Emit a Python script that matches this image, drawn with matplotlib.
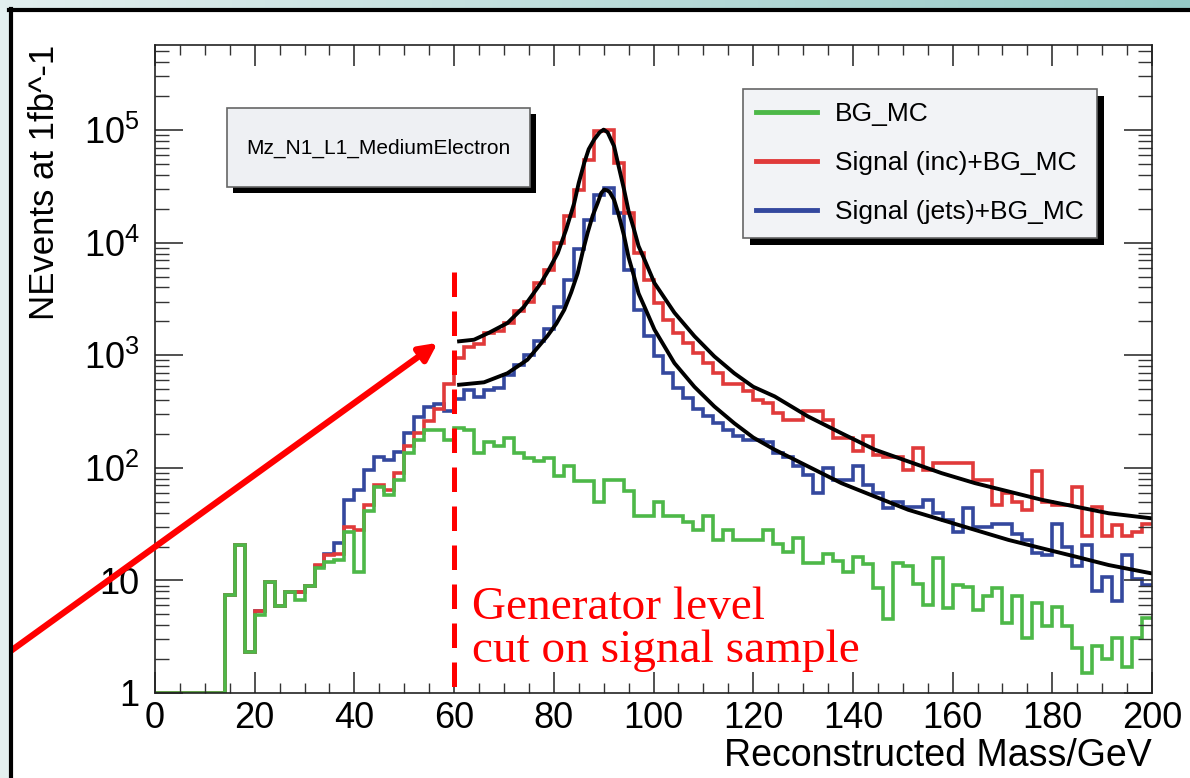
import numpy as np
import matplotlib
matplotlib.use("Agg")
import matplotlib.pyplot as plt
from matplotlib.patches import Rectangle
from matplotlib.lines import Line2D
from matplotlib.colors import LinearSegmentedColormap
from matplotlib.ticker import MultipleLocator, FixedLocator, FixedFormatter, LogLocator, NullFormatter

plt.rcParams["font.family"] = ["Liberation Sans", "DejaVu Sans"]
plt.rcParams["mathtext.fontset"] = "custom"
plt.rcParams["mathtext.rm"] = "Liberation Sans"

# 2 GeV bins from 0 to 200
bin_edges = np.arange(0, 202, 2)

bg_mc = [
    1, 1, 1, 1, 1, 1, 1, 7.4, 20.7, 2.3,
    4.9, 9.7, 5.9, 7.9, 6.7, 9.0, 12.8, 14.7, 15.2, 27,
    12, 41, 68, 57, 78, 135, 177, 218, 218, 177,
    225, 218, 135, 171, 155, 184, 135, 122, 114, 122,
    84, 103, 76, 76, 50, 78, 78, 62, 37, 37,
    50, 37, 37, 33, 28, 37, 23, 28, 23, 23,
    23, 28, 21, 18, 24, 14.2, 14.2, 17, 15, 12,
    16, 14, 8.5, 4.5, 14.2, 13.5, 9.3, 6.1, 15.7, 5.7,
    9.1, 8.8, 5.5, 7.2, 8.5, 4.2, 7.2, 3.1, 6.3, 3.9,
    5.8, 3.9, 2.5, 1.5, 2.6, 2.0, 3.1, 1.7, 3.1, 4.6,
]

sig_inc = [
    1, 1, 1, 1, 1, 1, 1, 7.4, 20.7, 2.3,
    5.4, 9.7, 5.9, 7.9, 7.9, 9.0, 13.7, 16.9, 17, 30,
    28, 47, 70, 63, 90, 155, 203, 258, 330, 560,
    950, 1180, 1260, 1575, 1640, 1930, 2450, 3000, 4370, 5750,
    9930, 17150, 29570, 54650, 97700, 100900, 51000, 18360, 8090, 4690,
    2910, 2070, 1575, 1283, 1050, 853, 700, 555, 560, 480,
    400, 376, 306, 267, 267, 317, 317, 267, 184, 184,
    140, 190, 131, 126, 126, 96, 150, 96, 110, 110,
    110, 110, 78, 78, 47, 60, 50, 42, 93, 50,
    47, 47, 68, 25, 45, 25, 31, 25, 27, 32,
]

sig_jets = [
    1, 1, 1, 1, 1, 1, 1, 7.4, 20.7, 2.3,
    5.4, 9.7, 5.9, 7.9, 7.9, 9.0, 13.5, 17, 21.4, 52,
    64, 96, 126, 118, 139, 204, 282, 346, 371, 320,
    405, 490, 425, 495, 515, 670, 820, 1010, 1330, 1700,
    2700, 4700, 8700, 15900, 26700, 30600, 18400, 5750, 2540, 1470,
    980, 690, 510, 420, 330, 286, 250, 218, 190, 177,
    177, 170, 135, 126, 103, 87, 60, 99, 78, 78,
    103, 71, 60, 44, 50, 45, 45, 52, 40, 34.5,
    27, 44, 30, 30, 32, 32, 26, 23, 17.4, 16.9,
    32, 20, 13.3, 20.6, 8, 10.8, 6.5, 16.9, 10.4, 9.1,
]

# fitted curves
fit_inc_x = [61, 64, 67, 70.7, 74, 77.4, 79, 80.8, 82.5, 84.1, 85, 86.1, 87, 88.1, 89.2,
             90.0, 90.8, 92.1, 93, 94.1, 95, 96.1, 97, 98.2, 100.2, 104.2, 108.2, 112.2,
             116.2, 120, 124.3, 131, 137.7, 144.4, 151.1, 157.8, 164.5, 171.2, 177.9,
             184.6, 191.3, 199.7]
fit_inc_y = [1330, 1374, 1585, 1932, 2692, 4375, 5754, 8091, 13180, 22540, 33880, 51050,
             67610, 82410, 95500, 100900, 95500, 71780, 47860, 29580, 19050, 13060, 9333,
             7063, 4375, 2388, 1479, 977, 692, 525, 431, 286, 203, 145, 114, 89.7, 73.1,
             61.7, 52.0, 45.3, 39.5, 35.7]

fit_jets_x = [61, 66, 70.7, 74.7, 78.7, 80.5, 82.1, 83.5, 84.8, 85.8, 86.8, 87.8, 88.8,
              89.5, 90.1, 90.7, 91.2, 92.1, 93, 94.1, 95, 96.1, 97, 98.2, 100.2, 104.2,
              108.2, 112.2, 116.2, 120, 124.3, 131, 137.7, 144.4, 151.1, 157.8, 164.5,
              171.2, 177.9, 184.6, 191.3, 199.7]
fit_jets_y = [547, 575, 692, 912, 1479, 1905, 2535, 3631, 5370, 8318, 12300, 17380, 22540,
              27540, 29580, 29170, 28180, 23990, 17780, 11480, 7413, 5012, 3548, 2692, 1687,
              851, 525, 351, 249, 186, 145, 103, 73.1, 55.6, 42.4, 34.5, 28.1, 22.9, 19.3,
              16.3, 13.7, 11.6]

cut_mass = 60
cut_top = 5500

GREEN = "#4db848"
RED = "#e03a3a"
BLUE = "#34489e"

W, H = 1190, 778


def px_rect(x0, y0, x1, y1):
    # pixel box (top-left origin) -> figure fraction rect
    return [x0 / W, 1 - y1 / H, (x1 - x0) / W, (y1 - y0) / H]


fig = plt.figure(figsize=(W / 100, H / 100), dpi=100)
fig.patch.set_facecolor("white")

# slide decoration: teal strips and black border
strip = fig.add_axes(px_rect(0, 0, W, 8))
strip.imshow(np.linspace(0, 1, 256)[None, :], aspect="auto",
             cmap=LinearSegmentedColormap.from_list("tl", ["#e2eeee", "#95cac7"]))
strip.axis("off")
fig.patches.append(Rectangle((0, 0), 9 / W, 1 - 8 / H, transform=fig.transFigure,
                             facecolor="#e4f0f0", edgecolor="none"))
fig.lines.append(Line2D([9 / W, 1], [1 - 10 / H, 1 - 10 / H], transform=fig.transFigure,
                        color="black", lw=3))
fig.lines.append(Line2D([10.5 / W, 10.5 / W], [0, 1 - 9 / H], transform=fig.transFigure,
                        color="black", lw=3))

ax = fig.add_axes(px_rect(155, 45, 1152, 693))

h_jets = ax.stairs(sig_jets, bin_edges, baseline=None, color=BLUE, lw=2.6,
                   label="Signal (jets)+BG_MC")
h_inc = ax.stairs(sig_inc, bin_edges, baseline=None, color=RED, lw=2.6,
                  label="Signal (inc)+BG_MC")
h_bg = ax.stairs(bg_mc, bin_edges, baseline=None, color=GREEN, lw=2.6, label="BG_MC")

ax.plot(fit_inc_x, fit_inc_y, color="black", lw=2.8, solid_joinstyle="round")
ax.plot(fit_jets_x, fit_jets_y, color="black", lw=2.8, solid_joinstyle="round")

ax.plot([cut_mass, cut_mass], [cut_top, 1], color="red", lw=3.6,
        linestyle=(0, (4.9, 2.9)), clip_on=False, zorder=6)

ax.set_yscale("log")
ax.set_xlim(0, 200)
ax.set_ylim(1, 5.7e5)

ax.xaxis.set_major_locator(MultipleLocator(20))
ax.xaxis.set_minor_locator(MultipleLocator(5))
decades = [1, 10, 1e2, 1e3, 1e4, 1e5]
ax.yaxis.set_major_locator(FixedLocator(decades))
ax.yaxis.set_major_formatter(FixedFormatter(
    ["1", "10", r"$\mathregular{10^{2}}$", r"$\mathregular{10^{3}}$",
     r"$\mathregular{10^{4}}$", r"$\mathregular{10^{5}}$"]))
ax.yaxis.set_minor_locator(LogLocator(base=10, subs=np.arange(2, 10)))
ax.yaxis.set_minor_formatter(NullFormatter())

ax.tick_params(which="both", direction="in", top=True, right=True, colors="#333333",
               labelcolor="black", labelsize=26)
ax.tick_params(axis="x", which="major", length=15, width=1.2, pad=6)
ax.tick_params(axis="x", which="minor", length=7, width=1.0)
ax.tick_params(axis="y", which="major", length=20, width=1.2, pad=11)
ax.tick_params(axis="y", which="minor", length=10, width=1.0)
for s in ax.spines.values():
    s.set_linewidth(1.2)
    s.set_color("#222222")

ax.set_xlabel("Reconstructed Mass/GeV", fontsize=27, loc="right")
ax.xaxis.set_label_coords(1.0, -0.07)
fig.text(45 / W, 1 - 45 / H, "NEvents at 1fb^-1", rotation=90, ha="center", va="top",
         fontsize=25)

leg = ax.legend(handles=[h_bg, h_inc, h_jets], loc="upper left",
                bbox_to_anchor=(743 / W, 1 - 89 / H), bbox_transform=fig.transFigure,
                fontsize=19, frameon=True, fancybox=False, borderaxespad=0,
                borderpad=0.5, labelspacing=0.95, handlelength=2.3, handletextpad=0.7)
leg.get_frame().set_facecolor("#f2f3f6")
leg.get_frame().set_edgecolor("#666666")
leg.get_frame().set_linewidth(1.2)
leg.get_frame().set_alpha(1)
for line in leg.get_lines():
    line.set_linewidth(3.5)

# channel label box with shadow
ax.add_patch(Rectangle((233 / W, 1 - 193 / H), 303 / W, 79 / H, transform=fig.transFigure,
                       facecolor="black", edgecolor="none", clip_on=False, zorder=4))
ax.add_patch(Rectangle((227 / W, 1 - 187 / H), 303 / W, 79 / H, transform=fig.transFigure,
                       facecolor="#eef0f3", edgecolor="#666666", lw=1.2, clip_on=False,
                       zorder=4.5))
fig.text(378 / W, 1 - 148 / H, "Mz_N1_L1_MediumElectron", ha="center", va="center",
         fontsize=15, zorder=5)

ax.text(0.318, 0.098, "Generator level\ncut on signal sample", transform=ax.transAxes,
        family=["Liberation Serif"], fontsize=34, color="red", va="center", ha="left",
        linespacing=1.0, zorder=6)

ax.annotate("", xy=(56.7, 1290), xycoords="data", xytext=(-6, H - 663),
            textcoords="figure pixels", annotation_clip=False,
            arrowprops=dict(arrowstyle="-|>", color="red", lw=4.5, mutation_scale=26,
                            shrinkA=0, shrinkB=0), zorder=7)

# legend shadow, placed once the legend size is known
fig.canvas.draw()
bb = leg.get_window_extent()
ax.add_patch(Rectangle((bb.x0 + 7, bb.y0 - 7), bb.width, bb.height, transform=None,
                       facecolor="black", edgecolor="none", clip_on=False, zorder=4.9))

fig.savefig("out.png", dpi=100)
